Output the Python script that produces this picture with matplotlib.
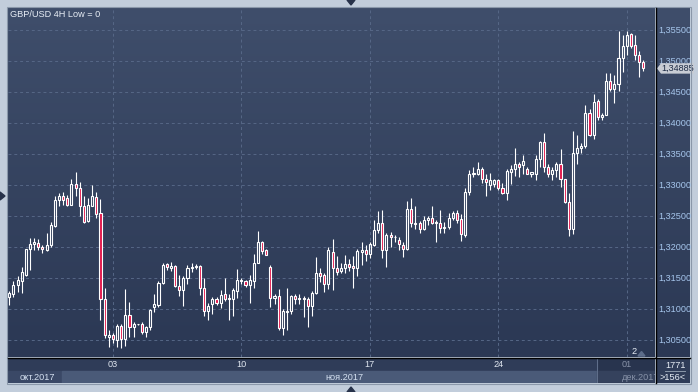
import numpy as np
import matplotlib
matplotlib.use("Agg")
import matplotlib.pyplot as plt
import matplotlib.transforms as mtransforms
from matplotlib.patches import Polygon, Rectangle
from matplotlib.colors import LinearSegmentedColormap

# ---------------- data ----------------
title = "GBP/USD 4H Low = 0"

opens = [1.3120, 1.3124, 1.3140, 1.3146, 1.3155, 1.3197, 1.3206, 1.3207, 1.3200, 1.3196,
         1.3203, 1.3234, 1.3277, 1.3282, 1.3279, 1.3269, 1.3302, 1.3295, 1.3267, 1.3243,
         1.3267, 1.3281, 1.3255, 1.3116, 1.3056, 1.3058, 1.3050, 1.3073, 1.3052, 1.3091,
         1.3071, 1.3076, 1.3076, 1.3064, 1.3071, 1.3104, 1.3107, 1.3142, 1.3173, 1.3167,
         1.3170, 1.3138, 1.3131, 1.3150, 1.3166, 1.3169, 1.3170, 1.3135, 1.3097, 1.3108,
         1.3116, 1.3110, 1.3124, 1.3117, 1.3117, 1.3130, 1.3145, 1.3146, 1.3139, 1.3146,
         1.3175, 1.3208, 1.3196, 1.3169, 1.3119, 1.3121, 1.3070, 1.3096, 1.3097, 1.3121,
         1.3116, 1.3118, 1.3116, 1.3105, 1.3126, 1.3159, 1.3155, 1.3141, 1.3192, 1.3166,
         1.3162, 1.3166, 1.3173, 1.3170, 1.3166, 1.3193, 1.3196, 1.3190, 1.3204, 1.3228,
         1.3240, 1.3195, 1.3220, 1.3216, 1.3212, 1.3204, 1.3197, 1.3262, 1.3238, 1.3239,
         1.3230, 1.3244, 1.3248, 1.3240, 1.3240, 1.3231, 1.3232, 1.3248, 1.3256, 1.3245,
         1.3220, 1.3290, 1.3319, 1.3319, 1.3327, 1.3311, 1.3301, 1.3302, 1.3309, 1.3295,
         1.3288, 1.3322, 1.3326, 1.3335, 1.3332, 1.3327, 1.3318, 1.3318, 1.3342, 1.3370,
         1.3330, 1.3319, 1.3324, 1.3334, 1.3310, 1.3273, 1.3229, 1.3352, 1.3361, 1.3363,
         1.3416, 1.3381, 1.3436, 1.3411, 1.3413, 1.3468, 1.3456, 1.3463, 1.3505, 1.3524,
         1.3544, 1.3526, 1.3511, 1.3499]
highs = [1.3129, 1.3145, 1.3153, 1.3169, 1.3198, 1.3215, 1.3215, 1.3213, 1.3204, 1.3223,
         1.3241, 1.3282, 1.3288, 1.3290, 1.3284, 1.3311, 1.3322, 1.3305, 1.3282, 1.3279,
         1.3301, 1.3290, 1.3278, 1.3135, 1.3067, 1.3062, 1.3077, 1.3076, 1.3132, 1.3112,
         1.3080, 1.3077, 1.3079, 1.3073, 1.3100, 1.3125, 1.3146, 1.3174, 1.3174, 1.3176,
         1.3171, 1.3156, 1.3153, 1.3171, 1.3174, 1.3173, 1.3171, 1.3150, 1.3110, 1.3120,
         1.3120, 1.3131, 1.3151, 1.3125, 1.3135, 1.3165, 1.3150, 1.3148, 1.3155, 1.3189,
         1.3227, 1.3211, 1.3197, 1.3171, 1.3124, 1.3133, 1.3101, 1.3134, 1.3123, 1.3125,
         1.3125, 1.3121, 1.3120, 1.3129, 1.3184, 1.3166, 1.3158, 1.3201, 1.3213, 1.3186,
         1.3174, 1.3188, 1.3181, 1.3186, 1.3198, 1.3209, 1.3204, 1.3209, 1.3244, 1.3258,
         1.3260, 1.3223, 1.3224, 1.3220, 1.3217, 1.3208, 1.3274, 1.3279, 1.3267, 1.3243,
         1.3250, 1.3250, 1.3267, 1.3244, 1.3261, 1.3241, 1.3256, 1.3259, 1.3260, 1.3254,
         1.3295, 1.3324, 1.3330, 1.3338, 1.3330, 1.3319, 1.3320, 1.3311, 1.3310, 1.3303,
         1.3327, 1.3332, 1.3361, 1.3338, 1.3349, 1.3330, 1.3322, 1.3349, 1.3372, 1.3384,
         1.3334, 1.3329, 1.3337, 1.3359, 1.3311, 1.3287, 1.3388, 1.3381, 1.3369, 1.3430,
         1.3423, 1.3448, 1.3439, 1.3416, 1.3481, 1.3481, 1.3478, 1.3549, 1.3543, 1.3549,
         1.3545, 1.3543, 1.3517, 1.3502]
lows = [1.3107, 1.3120, 1.3128, 1.3126, 1.3153, 1.3163, 1.3196, 1.3196, 1.3191, 1.3194,
        1.3201, 1.3233, 1.3266, 1.3268, 1.3266, 1.3268, 1.3282, 1.3250, 1.3240, 1.3241,
        1.3266, 1.3247, 1.3083, 1.3053, 1.3040, 1.3045, 1.3040, 1.3037, 1.3041, 1.3056,
        1.3055, 1.3075, 1.3060, 1.3056, 1.3067, 1.3096, 1.3104, 1.3141, 1.3163, 1.3162,
        1.3136, 1.3122, 1.3106, 1.3141, 1.3160, 1.3165, 1.3123, 1.3089, 1.3082, 1.3093,
        1.3107, 1.3102, 1.3114, 1.3082, 1.3090, 1.3119, 1.3141, 1.3136, 1.3110, 1.3134,
        1.3174, 1.3189, 1.3187, 1.3104, 1.3108, 1.3066, 1.3059, 1.3066, 1.3093, 1.3109,
        1.3109, 1.3088, 1.3072, 1.3090, 1.3124, 1.3144, 1.3128, 1.3133, 1.3131, 1.3155,
        1.3159, 1.3159, 1.3162, 1.3134, 1.3153, 1.3172, 1.3178, 1.3182, 1.3202, 1.3223,
        1.3182, 1.3168, 1.3201, 1.3208, 1.3196, 1.3184, 1.3196, 1.3232, 1.3229, 1.3223,
        1.3228, 1.3236, 1.3238, 1.3208, 1.3223, 1.3223, 1.3229, 1.3244, 1.3240, 1.3211,
        1.3217, 1.3284, 1.3314, 1.3317, 1.3304, 1.3283, 1.3293, 1.3298, 1.3293, 1.3286,
        1.3276, 1.3302, 1.3315, 1.3313, 1.3319, 1.3318, 1.3313, 1.3308, 1.3330, 1.3322,
        1.3314, 1.3308, 1.3314, 1.3298, 1.3271, 1.3219, 1.3221, 1.3334, 1.3352, 1.3361,
        1.3380, 1.3374, 1.3406, 1.3405, 1.3413, 1.3452, 1.3432, 1.3452, 1.3483, 1.3510,
        1.3521, 1.3502, 1.3475, 1.3485]
closes = [1.3127, 1.3140, 1.3147, 1.3160, 1.3197, 1.3206, 1.3209, 1.3200, 1.3197, 1.3204,
          1.3236, 1.3277, 1.3283, 1.3277, 1.3269, 1.3302, 1.3295, 1.3266, 1.3241, 1.3268,
          1.3282, 1.3254, 1.3116, 1.3059, 1.3059, 1.3052, 1.3073, 1.3052, 1.3091, 1.3071,
          1.3076, 1.3076, 1.3064, 1.3071, 1.3099, 1.3109, 1.3142, 1.3172, 1.3169, 1.3170,
          1.3137, 1.3131, 1.3150, 1.3166, 1.3169, 1.3170, 1.3135, 1.3098, 1.3106, 1.3116,
          1.3111, 1.3123, 1.3117, 1.3118, 1.3131, 1.3147, 1.3147, 1.3140, 1.3147, 1.3175,
          1.3208, 1.3194, 1.3188, 1.3119, 1.3121, 1.3070, 1.3097, 1.3098, 1.3121, 1.3117,
          1.3119, 1.3117, 1.3106, 1.3126, 1.3159, 1.3154, 1.3141, 1.3195, 1.3166, 1.3161,
          1.3166, 1.3173, 1.3169, 1.3166, 1.3194, 1.3196, 1.3190, 1.3205, 1.3228, 1.3240,
          1.3195, 1.3220, 1.3216, 1.3217, 1.3205, 1.3197, 1.3262, 1.3240, 1.3240, 1.3229,
          1.3244, 1.3248, 1.3240, 1.3241, 1.3231, 1.3233, 1.3248, 1.3255, 1.3244, 1.3221,
          1.3290, 1.3319, 1.3320, 1.3327, 1.3311, 1.3306, 1.3309, 1.3309, 1.3295, 1.3288,
          1.3323, 1.3326, 1.3335, 1.3330, 1.3339, 1.3319, 1.3321, 1.3342, 1.3370, 1.3330,
          1.3319, 1.3325, 1.3334, 1.3310, 1.3273, 1.3229, 1.3352, 1.3361, 1.3364, 1.3416,
          1.3381, 1.3435, 1.3411, 1.3414, 1.3468, 1.3456, 1.3463, 1.3505, 1.3524, 1.3543,
          1.3525, 1.3511, 1.3499, 1.34885]

price_levels = [1.305, 1.310, 1.315, 1.320, 1.325, 1.330, 1.335, 1.340, 1.345, 1.350, 1.355]
week_labels = ["03", "10", "17", "24", "01"]
week_idx = [25, 56, 87, 118, 149]
month_labels = ["окт.2017", "ноя.2017", "дек.2017"]
month_label_idx = [2.6, 80.8, 147.9]
nov_start_idx = 12.6
overlay_start_idx = 141.8
bar_total = "1771"
bars_visible = ">156<"
marker_label = "2"

# ---------------- styling ----------------
W, H = 698, 392
plt.rcParams['font.family'] = ['Liberation Sans', 'DejaVu Sans']
FS = 6.6
RED = '#e2164a'
GRID = '#566786'
TOP_C, BOT_C = '#3f4e6b', '#2b3854'

fig = plt.figure(figsize=(W / 100, H / 100), dpi=100)
fig.patch.set_facecolor('#c2cddb')


def box(x0, y0, x1, y1):
    return [x0 / W, 1 - y1 / H, (x1 - x0) / W, (y1 - y0) / H]


def gradient(axis, top, bottom):
    cmap = LinearSegmentedColormap.from_list('g', [bottom, top])
    axis.imshow(np.linspace(0, 1, 256).reshape(-1, 1), cmap=cmap, origin='lower',
                aspect='auto', extent=[0, 1, 0, 1], transform=axis.transAxes, zorder=0)


XMIN, XMAX = -0.31, 155.8
YMIN, YMAX = 1.30231, 1.35860

# ---------------- main chart ----------------
ax = fig.add_axes(box(8, 8, 655, 357))
gradient(ax, TOP_C, BOT_C)
ax.set_xlim(XMIN, XMAX)
ax.set_ylim(YMIN, YMAX)
ax.set_axis_off()
for lv in price_levels:
    ax.axhline(lv, color=GRID, lw=0.7, ls=(0, (3, 3)), zorder=1)
for wi in week_idx:
    ax.axvline(wi, color=GRID, lw=0.7, ls=(0, (3, 3)), zorder=1)

o = np.array(opens); h = np.array(highs); l = np.array(lows); c = np.array(closes)
x = np.arange(len(o))
top = np.maximum(o, c)
bot = np.minimum(o, c)
ax.vlines(x, top, h, color='white', lw=0.8, zorder=3)
ax.vlines(x, l, bot, color='white', lw=0.8, zorder=3)
up = c >= o
ax.bar(x[up], (top - bot)[up], bottom=bot[up], width=0.5, facecolor='none',
       edgecolor='white', lw=0.8, zorder=4)
ax.bar(x[~up], (top - bot)[~up], bottom=bot[~up], width=0.5, facecolor=RED,
       edgecolor='white', lw=0.8, zorder=4)

fig.text(10 / W, 1 - 14.5 / H, title, ha='left', va='center', color='#e8eef6', fontsize=FS)

# ---------------- price axis ----------------
axp = fig.add_axes(box(656, 8, 690, 357))
gradient(axp, TOP_C, BOT_C)
axp.set_xlim(0, 1)
axp.set_ylim(YMIN, YMAX)
axp.set_axis_off()
for lv in price_levels:
    axp.text(0.08, lv, f"{lv:.5f}".replace('.', ','), ha='left', va='center',
             color='#a6c6ec', fontsize=FS)

last_price = closes[-1]
blend = mtransforms.blended_transform_factory(axp.transAxes, axp.transData)
tr = mtransforms.ScaledTranslation(0, last_price, blend)
tag = Polygon([(1, 0), (5, 5.2), (38, 5.2), (38, -5.2), (5, -5.2)], closed=True,
              transform=tr, facecolor='#c8ccd4', edgecolor='none', clip_on=False, zorder=6)
axp.add_patch(tag)
axp.text(21.5, 0, f"{last_price:.5f}".replace('.', ','), transform=tr, ha='center',
         va='center', color='#1c2a44', fontsize=FS, clip_on=False, zorder=7)

# ---------------- time axis ----------------
axt = fig.add_axes(box(8, 358, 655, 383))
axt.set_xlim(XMIN, XMAX)
axt.set_ylim(0, 1)
axt.set_axis_off()
split = 0.48
axt.add_patch(Rectangle((XMIN, split), XMAX - XMIN, 1 - split, color='#2f3c58', zorder=0))
axt.add_patch(Rectangle((XMIN, 0), nov_start_idx - XMIN, split, color='#3a4866', zorder=0))
axt.add_patch(Rectangle((nov_start_idx, 0), XMAX - nov_start_idx, split, color='#4a5a78', zorder=0))
axt.add_patch(Rectangle((overlay_start_idx, 0), XMAX - overlay_start_idx, 1,
                        color='#242f47', alpha=0.55, zorder=1))
axt.axvline(overlay_start_idx, color='#5f6e8a', lw=0.8, zorder=2)
for lbl, wi in zip(week_labels, week_idx):
    col = '#8792a8' if wi > overlay_start_idx else '#dfe6ef'
    axt.text(wi, 0.74, lbl, ha='center', va='center', color=col, fontsize=FS, zorder=3)
for lbl, mi in zip(month_labels, month_label_idx):
    if mi > overlay_start_idx:
        axt.text(mi, 0.24, lbl, ha='left', va='center', color='#8792a8', fontsize=FS,
                 clip_on=True, zorder=3)
    elif mi < nov_start_idx:
        axt.text(mi, 0.24, lbl, ha='left', va='center', color='#d4e0f0', fontsize=FS, zorder=3)
    else:
        axt.text(mi, 0.24, lbl, ha='center', va='center', color='#d4e0f0', fontsize=FS, zorder=3)

# bottom-right info box
axb = fig.add_axes(box(656, 358, 690, 383))
axb.set_facecolor('#2f3c58')
axb.set_xticks([]); axb.set_yticks([])
for s in axb.spines.values():
    s.set_visible(False)

# ---------------- UI overlay ----------------
ui = fig.add_axes([0, 0, 1, 1], zorder=20)
ui.set_xlim(0, W)
ui.set_ylim(H, 0)
ui.set_axis_off()
ui.add_patch(Rectangle((7, 7), 684, 377, fill=False, edgecolor='#8b98aa', lw=0.8))
ui.plot([655.5, 655.5], [8, 383], color='black', lw=1.0)
ui.plot([8, 690], [357.5, 357.5], color='black', lw=1.0)
ui.add_patch(Polygon([(347, 0), (355, 0), (351, 5)], closed=True, color='#27324a'))
ui.add_patch(Polygon([(347, 392), (355, 392), (351, 387)], closed=True, color='#27324a'))
ui.add_patch(Polygon([(0, 192), (0, 200), (5, 196)], closed=True, color='#27324a'))
ui.text(634, 352, marker_label, ha='center', va='center', color='#e8eef6', fontsize=FS)
ui.add_patch(Polygon([(638, 356), (645, 356), (641.5, 351.5)], closed=True, color='#5d6d8a'))
ui.text(676, 365, bar_total, ha='center', va='center', color='#e8eef6', fontsize=FS)
ui.plot([665, 685], [371, 371], color='#8b98aa', lw=0.7)
ui.text(673, 377.5, bars_visible, ha='center', va='center', color='#e8eef6', fontsize=FS)

fig.savefig('out.png', dpi=100, facecolor=fig.get_facecolor())
